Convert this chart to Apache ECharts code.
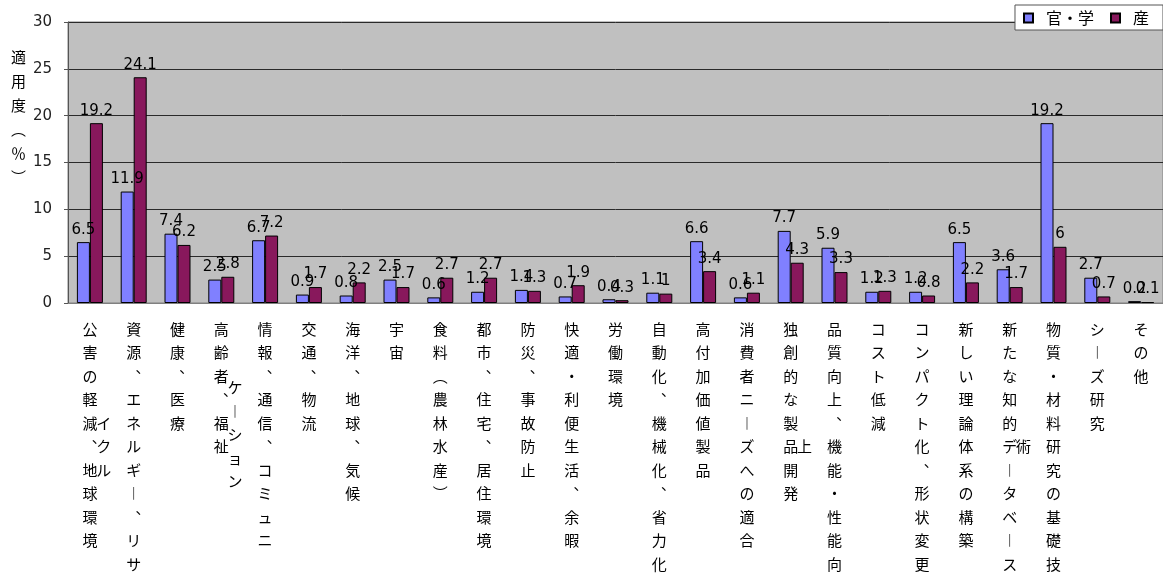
<!DOCTYPE html>
<html>
<head>
<meta charset="utf-8">
<script src="https://cdn.jsdelivr.net/npm/echarts@6/dist/echarts.min.js"></script>
<style>
  html, body { margin: 0; padding: 0; background: #fff; }
  #chart { width: 1163px; height: 579px; }
</style>
</head>
<body>
<div id="chart"></div>
<script>
// Categories: a "\n" marks where a long vertical label wraps into a second column.
const categories = [
  '公害の軽減、地球環境',
  '資源、エネルギー、リサ\nイクル',
  '健康、医療',
  '高齢者、福祉',
  '情報、通信、コミュニ\nケーション',
  '交通、物流',
  '海洋、地球、気候',
  '宇宙',
  '食料（農林水産）',
  '都市、住宅、居住環境',
  '防災、事故防止',
  '快適・利便生活、余暇',
  '労働環境',
  '自動化、機械化、省力化',
  '高付加価値製品',
  '消費者ニーズへの適合',
  '独創的な製品開発',
  '品質向上、機能・性能向\n上',
  'コスト低減',
  'コンパクト化、形状変更',
  '新しい理論体系の構築',
  '新たな知的データベース',
  '物質・材料研究の基礎技\n術',
  'シーズ研究',
  'その他'
];
const seriesNames = ['官・学', '産'];
const academiaValues = [6.5, 11.9, 7.4, 2.5, 6.7, 0.9, 0.8, 2.5, 0.6, 1.2, 1.4, 0.7, 0.4, 1.1, 6.6, 0.6, 7.7, 5.9, 1.2, 1.2, 6.5, 3.6, 19.2, 2.7, 0.2];
const industryValues = [19.2, 24.1, 6.2, 2.8, 7.2, 1.7, 2.2, 1.7, 2.7, 2.7, 1.3, 1.9, 0.3, 1, 3.4, 1.1, 4.3, 3.3, 1.3, 0.8, 2.2, 1.7, 6, 0.7, 0.1];
const yTicks = { min: 0, max: 30, interval: 5 };
const yAxisTitle = '適用度（％）';

// Vertical presentation forms for punctuation in stacked text
const VERT = { '、': '︑', 'ー': '︱', '（': '︵', '）': '︶' };
const vert = ch => VERT[ch] || ch;

// Builds a vertical label as rich text on half-row lines, so the wrapped
// second column (drawn to the left) can be centred against the first.
function verticalLabel(value) {
  const parts = value.split('\n');
  const a = [...parts[0]].map(vert);
  const b = parts[1] ? [...parts[1]].map(vert) : [];
  const off = a.length - b.length;
  const lines = [];
  for (let h = 0; h < 2 * a.length - 1; h++) {
    const m = h % 2 === 0 ? a[h / 2] : '　';
    let l = '　';
    const k = h - off;
    if (b.length && k >= 0 && k % 2 === 0 && k / 2 < b.length) l = b[k / 2];
    lines.push('{c|' + l + '}{c|' + m + '}{c|　}');
  }
  return lines.join('\n');
}

const barLabel = {
  show: true, position: 'top', distance: 5,
  fontFamily: 'DejaVu Sans', fontSize: 15, color: '#000'
};

const chart = echarts.init(document.getElementById('chart'));
chart.setOption({
  animation: false,
  backgroundColor: '#ffffff',
  grid: {
    left: 68, right: 0, top: 22, bottom: 276,
    containLabel: false, outerBoundsMode: 'none',
    show: true, backgroundColor: '#c0c0c0', borderColor: '#808080', borderWidth: 1
  },
  legend: {
    data: seriesNames,
    icon: 'rect',
    right: 0, top: 5,
    backgroundColor: '#ffffff', borderColor: '#555', borderWidth: 1,
    padding: [5, 14, 4, 8],
    itemWidth: 9, itemHeight: 9, itemGap: 16,
    textStyle: { fontFamily: 'Noto Sans CJK JP', fontSize: 16, color: '#000', padding: [0, 0, 0, 8] }
  },
  graphic: [{
    type: 'text', left: 11, top: 45,
    style: {
      text: [...yAxisTitle].map(vert).join('\n'),
      font: '15px "Noto Sans CJK JP"', lineHeight: 24, fill: '#000', align: 'center'
    }
  }],
  xAxis: {
    type: 'category',
    data: categories,
    axisLine: { show: true, lineStyle: { color: '#808080' } },
    axisTick: { show: false },
    axisLabel: {
      interval: 0,
      margin: 20,
      formatter: verticalLabel,
      rich: {
        c: {
          width: 30, align: 'center', lineHeight: 11.75,
          fontFamily: 'Noto Sans CJK JP', fontSize: 15, color: '#000'
        }
      }
    }
  },
  yAxis: {
    type: 'value',
    min: yTicks.min, max: yTicks.max, interval: yTicks.interval,
    axisLine: { show: true, lineStyle: { color: '#555' } },
    axisTick: { show: true, length: 4, lineStyle: { color: '#555' } },
    axisLabel: { margin: 16, fontFamily: 'DejaVu Sans', fontSize: 15, color: '#222' },
    splitLine: { show: true, lineStyle: { color: '#2a2a2a', width: 1 } }
  },
  series: [
    {
      name: seriesNames[0], type: 'bar', data: academiaValues,
      barWidth: 13, barGap: '0%',
      itemStyle: { color: '#8080ff', borderColor: '#000', borderWidth: 1 },
      label: barLabel
    },
    {
      name: seriesNames[1], type: 'bar', data: industryValues,
      barWidth: 13, barGap: '0%',
      itemStyle: { color: '#88185c', borderColor: '#000', borderWidth: 1 },
      label: barLabel
    }
  ]
});
</script>
</body>
</html>
